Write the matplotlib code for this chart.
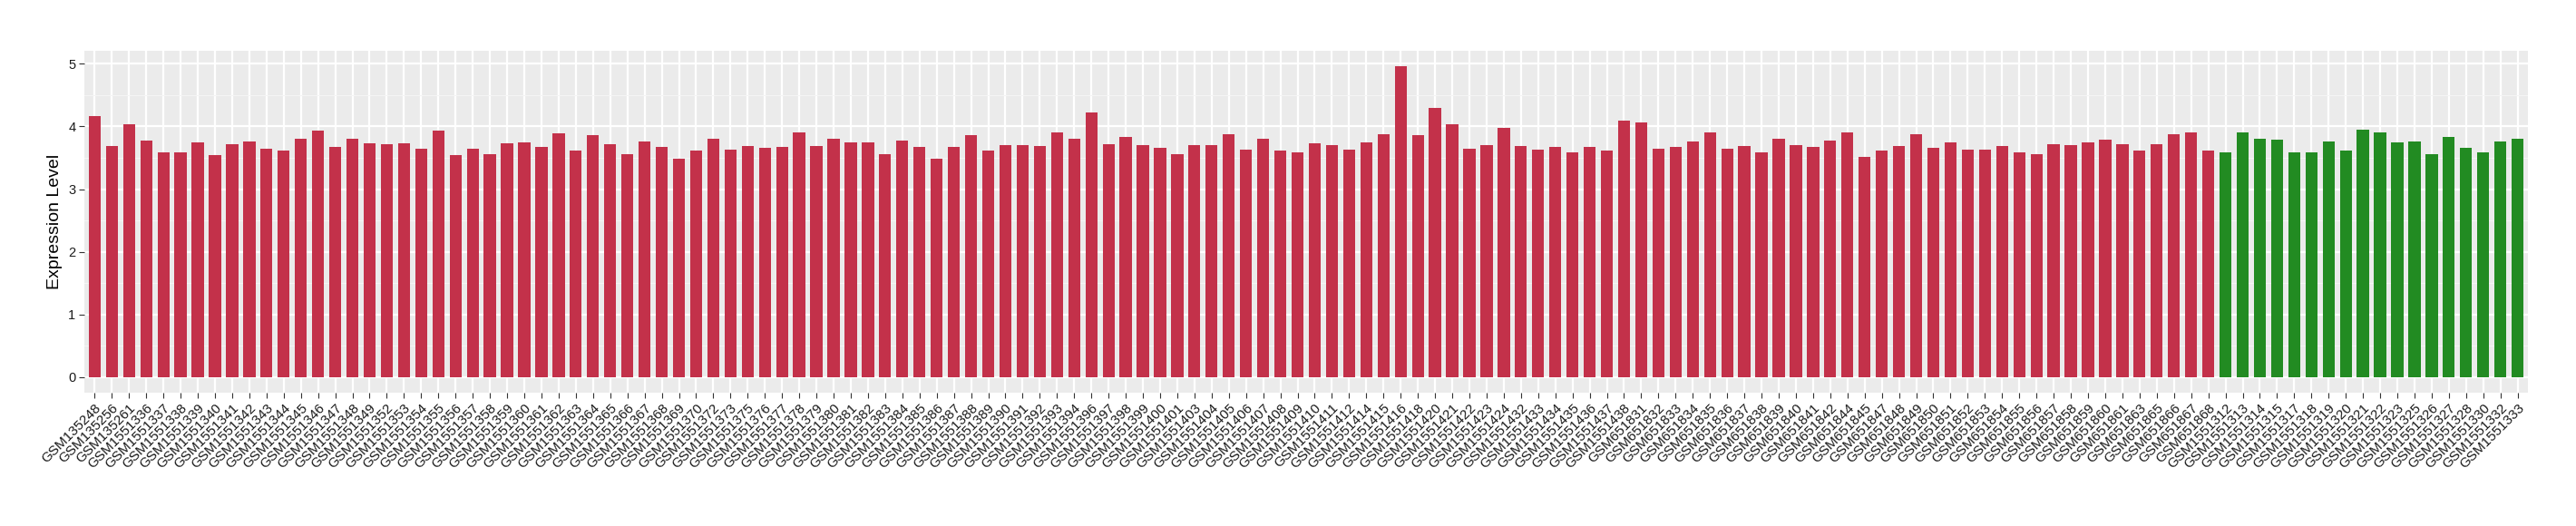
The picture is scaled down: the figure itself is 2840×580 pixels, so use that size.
import matplotlib
matplotlib.use("Agg")
import matplotlib.pyplot as plt
from matplotlib.ticker import MultipleLocator

plt.rcParams['font.family'] = ['Liberation Sans', 'DejaVu Sans']

red_samples = [
    "GSM135248", "GSM135256", "GSM135261",
    "GSM1551336", "GSM1551337", "GSM1551338", "GSM1551339", "GSM1551340", "GSM1551341",
    "GSM1551342", "GSM1551343", "GSM1551344", "GSM1551345", "GSM1551346", "GSM1551347",
    "GSM1551348", "GSM1551349", "GSM1551352", "GSM1551353", "GSM1551354", "GSM1551355",
    "GSM1551356", "GSM1551357", "GSM1551358", "GSM1551359", "GSM1551360", "GSM1551361",
    "GSM1551362", "GSM1551363", "GSM1551364", "GSM1551365", "GSM1551366", "GSM1551367",
    "GSM1551368", "GSM1551369", "GSM1551370", "GSM1551372", "GSM1551373", "GSM1551375",
    "GSM1551376", "GSM1551377", "GSM1551378", "GSM1551379", "GSM1551380", "GSM1551381",
    "GSM1551382", "GSM1551383", "GSM1551384", "GSM1551385", "GSM1551386", "GSM1551387",
    "GSM1551388", "GSM1551389", "GSM1551390", "GSM1551391", "GSM1551392", "GSM1551393",
    "GSM1551394", "GSM1551396", "GSM1551397", "GSM1551398", "GSM1551399", "GSM1551400",
    "GSM1551401", "GSM1551403", "GSM1551404", "GSM1551405", "GSM1551406", "GSM1551407",
    "GSM1551408", "GSM1551409", "GSM1551410", "GSM1551411", "GSM1551412", "GSM1551414",
    "GSM1551415", "GSM1551416", "GSM1551418", "GSM1551420", "GSM1551421", "GSM1551422",
    "GSM1551423", "GSM1551424", "GSM1551432", "GSM1551433", "GSM1551434", "GSM1551435",
    "GSM1551436", "GSM1551437", "GSM1551438",
    "GSM651831", "GSM651832", "GSM651833", "GSM651834", "GSM651835", "GSM651836",
    "GSM651837", "GSM651838", "GSM651839", "GSM651840", "GSM651841", "GSM651842",
    "GSM651844", "GSM651845", "GSM651847", "GSM651848", "GSM651849", "GSM651850",
    "GSM651851", "GSM651852", "GSM651853", "GSM651854", "GSM651855", "GSM651856",
    "GSM651857", "GSM651858", "GSM651859", "GSM651860", "GSM651861", "GSM651863",
    "GSM651865", "GSM651866", "GSM651867", "GSM651868",
]
red_values = [
    4.17, 3.69, 4.03,
    3.77, 3.59, 3.59, 3.75, 3.55, 3.72,
    3.76, 3.65, 3.61, 3.81, 3.93, 3.68,
    3.81, 3.73, 3.72, 3.73, 3.65, 3.93,
    3.55, 3.65, 3.56, 3.73, 3.75, 3.68,
    3.89, 3.62, 3.86, 3.72, 3.56, 3.76,
    3.68, 3.48, 3.61, 3.81, 3.63, 3.69,
    3.66, 3.68, 3.91, 3.69, 3.80, 3.75,
    3.75, 3.56, 3.77, 3.68, 3.49, 3.68,
    3.86, 3.62, 3.70, 3.70, 3.69, 3.90,
    3.81, 4.23, 3.72, 3.83, 3.70, 3.66,
    3.56, 3.70, 3.70, 3.87, 3.63, 3.80,
    3.62, 3.59, 3.73, 3.70, 3.63, 3.75,
    3.87, 4.96, 3.86, 4.29, 4.03, 3.65,
    3.70, 3.98, 3.69, 3.63, 3.68, 3.59,
    3.68, 3.62, 4.09,
    4.06, 3.65, 3.68, 3.76, 3.90, 3.65,
    3.69, 3.59, 3.81, 3.70, 3.68, 3.77,
    3.91, 3.52, 3.62, 3.69, 3.87, 3.66,
    3.75, 3.63, 3.63, 3.69, 3.58, 3.56,
    3.72, 3.70, 3.75, 3.79, 3.72, 3.61,
    3.72, 3.87, 3.90, 3.62,
]
green_samples = [
    "GSM1551312", "GSM1551313", "GSM1551314", "GSM1551315", "GSM1551317", "GSM1551318",
    "GSM1551319", "GSM1551320", "GSM1551321", "GSM1551322", "GSM1551323", "GSM1551325",
    "GSM1551326", "GSM1551327", "GSM1551328", "GSM1551330", "GSM1551332", "GSM1551333",
]
green_values = [
    3.59, 3.90, 3.81, 3.79, 3.59, 3.58,
    3.76, 3.62, 3.95, 3.90, 3.75, 3.76,
    3.56, 3.84, 3.66, 3.58, 3.76, 3.80,
]

RED = "#C3314A"
GREEN = "#228B22"

samples = red_samples + green_samples
values = red_values + green_values
colors = [RED] * len(red_samples) + [GREEN] * len(green_samples)
n = len(samples)
x = list(range(n))

W, H = 2840, 580
fig = plt.figure(figsize=(W / 100, H / 100), dpi=100)
left, right, top, bottom = 93, 2787, 56, 433
ax = fig.add_axes([left / W, 1 - bottom / H, (right - left) / W, (bottom - top) / H])

ax.set_facecolor("#EBEBEB")
for s in ax.spines.values():
    s.set_visible(False)

ax.bar(x, values, width=0.7, color=colors, zorder=3)

ymax = max(values)
ax.set_ylim(-0.05 * ymax, ymax * 1.05)
ax.set_xlim(-0.6, n - 1 + 0.6)

ax.yaxis.set_major_locator(MultipleLocator(1))
ax.yaxis.set_minor_locator(MultipleLocator(0.5))
ax.grid(True, which="major", axis="both", color="white", linewidth=1.6, zorder=1)
ax.grid(True, which="minor", axis="y", color="#F5F5F5", linewidth=0.8, zorder=1)

ax.set_xticks(x)
ax.set_xticklabels(samples, rotation=45, ha="right", va="top",
                   rotation_mode="anchor", fontsize=11, color="#1A1A1A")
ax.tick_params(axis="x", which="major", length=4, width=0.8, color="#333333", pad=3)
ax.tick_params(axis="y", which="major", length=4, width=0.8, color="#333333",
               labelsize=10.5, labelcolor="#1A1A1A", pad=3)
ax.tick_params(axis="y", which="minor", length=0)

ax.set_ylabel("Expression Level", fontsize=14, color="black", labelpad=4)

fig.savefig("out.png", dpi=100, facecolor="white")
